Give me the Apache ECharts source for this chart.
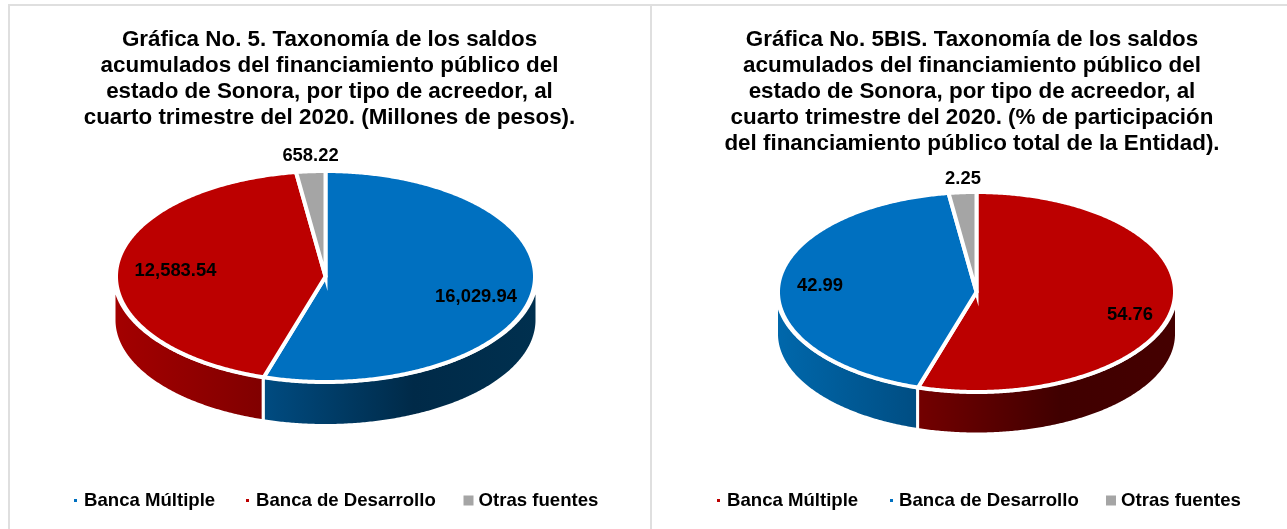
<!DOCTYPE html>
<html><head><meta charset="utf-8">
<script src="https://cdn.jsdelivr.net/npm/echarts@6/dist/echarts.min.js"></script>
<style>
html,body{margin:0;padding:0;background:#fff;overflow:hidden}
#a,#b{position:absolute;top:0;height:529px;box-sizing:border-box}
#a{left:0;width:651px}
#b{left:651px;width:636px}
#fa{position:absolute;left:8px;top:4px;width:644px;height:530px;border:2px solid #dfdfdf;box-sizing:border-box}
#fb{position:absolute;left:650px;top:4px;width:640px;height:530px;border:2px solid #dfdfdf;box-sizing:border-box}
</style></head><body>
<div id="fa"></div><div id="fb"></div>
<div id="a"></div><div id="b"></div>
<script>
const categories = ['Banca Múltiple', 'Banca de Desarrollo', 'Otras fuentes'];
const valuesMillones = [16029.94, 12583.54, 658.22];
const valuesPorcentaje = [54.76, 42.99, 2.25];
const titleA = 'Gráfica No. 5. Taxonomía de los saldos\nacumulados del financiamiento público del\nestado de Sonora, por tipo de acreedor, al\ncuarto trimestre del 2020. (Millones de pesos).';
const titleB = 'Gráfica No. 5BIS. Taxonomía de los saldos\nacumulados del financiamiento público del\nestado de Sonora, por tipo de acreedor, al\ncuarto trimestre del 2020. (% de participación\ndel financiamiento público total de la Entidad).';

const FONT = '"Liberation Sans", Arial, sans-serif';
const RED = '#BC0000', BLUE = '#0070C0', GREY = '#A5A5A5';

const layoutA = {
  cx: 325.5, cy: 276.5, rx: 209.5, ry: 105.5, sideRx: 211.5, depth: 43.5, titleX: 329.5,
  colors: [BLUE, RED, GREY],
  sides: [
    [[0, '#004C82'], [0.55, '#002A48'], [1, '#00304F']],
    [[0, '#A40000'], [1, '#800000']],
    [[0, '#777777'], [1, '#777777']]
  ],
  labelAt: [[476, 297], [175.5, 271], [310.5, 156]],
  legend: [[74, 3, 2], [246, 3, 2], [463.5, 10, 0]]
};
const layoutB = {
  cx: 325.5, cy: 292, rx: 198.5, ry: 100, sideRx: 200, depth: 42, titleX: 321,
  colors: [RED, BLUE, GREY],
  sides: [
    [[0, '#740000'], [0.55, '#400000'], [1, '#450000']],
    [[0, '#0068AC'], [1, '#004D82']],
    [[0, '#777777'], [1, '#777777']]
  ],
  labelAt: [[479, 315], [169, 286], [312, 179]],
  legend: [[66, 3, 2], [239, 3, 1], [455, 10, 0]]
};
const RIM_SKIP = 9; // degrees of the rim, at each side, where the side wall is not yet visible

function fmt(v) { return v.toLocaleString('en-US', { minimumFractionDigits: 2, maximumFractionDigits: 2 }); }

function arc(L, rx, a, b, dy) {
  const pts = [], n = Math.max(2, Math.ceil(Math.abs(b - a) * 2));
  for (let i = 0; i <= n; i++) {
    const t = (a + (b - a) * i / n) * Math.PI / 180;
    pts.push([L.cx + rx * Math.sin(t), L.cy - L.ry * Math.cos(t) + dy]);
  }
  return pts;
}

function sideWall(L, a0, a1) {
  const s0 = Math.max(a0, 90), s1 = Math.min(a1, 270);
  if (s1 <= s0) return null;
  const r0 = Math.max(s0, 90 + RIM_SKIP), r1 = Math.min(s1, 270 - RIM_SKIP);
  const upper = arc(L, L.sideRx, r0, r1, 0);
  const pts = [];
  if (s0 < r0) pts.push([L.cx + L.sideRx, upper[0][1]]);
  pts.push.apply(pts, upper);
  if (s1 > r1) pts.push([L.cx - L.sideRx, upper[upper.length - 1][1]]);
  return pts.concat(arc(L, L.sideRx, s1, s0, L.depth));
}

function buildOption(values, title, L) {
  const total = values.reduce((s, v) => s + v, 0);
  let acc = 0;
  const series = values.map((v, i) => {
    const a0 = acc / total * 360; acc += v; const a1 = acc / total * 360;
    return {
      type: 'custom', name: categories[i], coordinateSystem: 'none',
      itemStyle: { color: L.colors[i] },
      data: [v],
      renderItem: function () {
        const children = [];
        const wall = sideWall(L, a0, a1);
        if (wall) {
          children.push({
            type: 'polygon', z2: 1, shape: { points: wall },
            style: {
              fill: new echarts.graphic.LinearGradient(0, 0, 1, 0,
                L.sides[i].map(c => ({ offset: c[0], color: c[1] }))),
              stroke: '#fff', lineWidth: 3, lineJoin: 'miter'
            }
          });
        }
        children.push({
          type: 'polygon', z2: 2,
          shape: { points: [[L.cx, L.cy]].concat(arc(L, L.rx, a0, a1, 0)) },
          style: { fill: L.colors[i], stroke: '#fff', lineWidth: 4, lineJoin: 'miter' }
        });
        children.push({
          type: 'text', z2: 3, x: L.labelAt[i][0], y: L.labelAt[i][1],
          style: {
            text: fmt(v), fill: '#000', font: 'bold 18.4px ' + FONT,
            textAlign: 'center', textVerticalAlign: 'middle'
          }
        });
        return { type: 'group', children: children };
      }
    };
  });
  return {
    animation: false,
    backgroundColor: 'transparent',
    title: {
      text: title, left: L.titleX, top: 27, textAlign: 'center', padding: 0,
      textStyle: { fontFamily: FONT, fontWeight: 'bold', fontSize: 22.4, lineHeight: 26, color: '#000' }
    },
    legend: categories.map((c, i) => ({
      data: [{ name: c, icon: 'rect' }],
      left: L.legend[i][0], top: 491,
      itemWidth: L.legend[i][1], itemHeight: L.legend[i][1],
      padding: 0, selectedMode: false,
      textStyle: {
        fontFamily: FONT, fontWeight: 'bold', fontSize: 18.6, color: '#000',
        padding: [0, 0, 0, L.legend[i][2]]
      }
    })),
    series: series
  };
}

echarts.init(document.getElementById('a')).setOption(buildOption(valuesMillones, titleA, layoutA));
echarts.init(document.getElementById('b')).setOption(buildOption(valuesPorcentaje, titleB, layoutB));
</script>
</body></html>
